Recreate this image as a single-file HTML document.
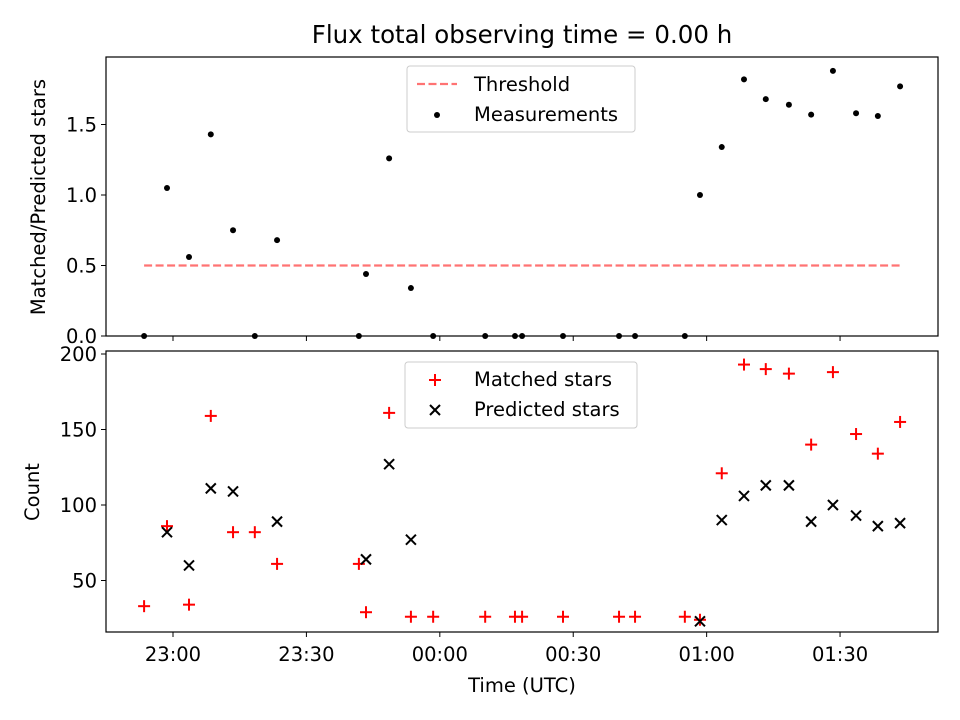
<!DOCTYPE html>
<html><head><meta charset="utf-8"><style>
body{margin:0;background:#fff}
svg{display:block;font-family:"DejaVu Sans","Liberation Sans",sans-serif}
</style></head><body>
<svg id="c" width="960" height="720"></svg>
<script>
const times=[-6.5,-1.35,3.6,8.5,13.5,18.4,23.4,41.8,43.4,48.6,53.5,58.5,70.2,76.9,78.5,87.7,100.3,103.9,115.1,118.5,123.4,128.4,133.3,138.5,143.5,148.4,153.6,158.5,163.5];
const ratio=[0,1.05,0.56,1.43,0.75,0,0.68,0,0.44,1.26,0.34,0,0,0,0,0,0,0,0,1.0,1.34,1.82,1.68,1.64,1.57,1.88,1.58,1.56,1.77];
const matched=[33,86,34,159,82,82,61,61,29,161,26,26,26,26,26,26,26,26,26,24,121,193,190,187,140,188,147,134,155];
const predTimes=[-1.35,3.6,8.5,13.5,23.4,43.4,48.6,53.5,118.5,123.4,128.4,133.3,138.5,143.5,148.4,153.6,158.5,163.5];
const predicted=[82,60,111,109,89,64,127,77,23,90,106,113,113,89,100,93,86,88];
const threshold=0.5;
const xTickLabels=["23:00","23:30","00:00","00:30","01:00","01:30"];
const xTickMins=[0,30,60,90,120,150];
const topTicks=[0,0.5,1.0,1.5];
const botTicks=[50,100,150,200];

const NS="http://www.w3.org/2000/svg";
const svg=document.getElementById('c');
function el(t,a,p){const e=document.createElementNS(NS,t);for(const k in a)e.setAttribute(k,a[k]);(p||svg).appendChild(e);return e;}
const X=m=>173+m*4.447;
const Yt=v=>336-v*141;
const Yb=v=>354+(200-v)*1.51;
const L=106,R=938;
const FS=19.5;

let t=el('text',{x:522,y:43,'text-anchor':'middle','font-size':24.5});t.textContent='Flux total observing time = 0.00 h';


let g1=el('g',{});
el('line',{x1:X(times[0]),x2:X(times[times.length-1]),y1:Yt(threshold),y2:Yt(threshold),stroke:'#ff7373','stroke-width':2.2,'stroke-dasharray':'8,3.5'},g1);
times.forEach((m,i)=>{const c=el('circle',{cx:X(m),cy:Yt(ratio[i]),r:3,fill:'#000'},g1);
});
el('rect',{x:L,y:57,width:R-L,height:279,fill:'none',stroke:'#000','stroke-width':1.2},g1);
topTicks.forEach(v=>{el('line',{x1:L-5,x2:L,y1:Yt(v),y2:Yt(v),stroke:'#000'},g1);
const tx=el('text',{x:L-9,y:Yt(v)+7,'text-anchor':'end','font-size':FS},g1);tx.textContent=v.toFixed(1);
});
xTickMins.forEach(m=>el('line',{x1:X(m),x2:X(m),y1:336,y2:341,stroke:'#000'},g1));
let yl=el('text',{transform:'translate(45,197) rotate(-90)','text-anchor':'middle','font-size':FS},g1);yl.textContent='Matched/Predicted stars';

let lg=el('g',{},g1);
el('rect',{x:407,y:66,width:228,height:66,rx:3,fill:'#fff',stroke:'#ccc'},lg);
el('line',{x1:417,x2:457,y1:84,y2:84,stroke:'#ff7373','stroke-width':2.2,'stroke-dasharray':'8,3.5'},lg);
let a=el('text',{x:474,y:91,'font-size':FS},lg);a.textContent='Threshold';
el('circle',{cx:437,cy:115,r:3,fill:'#000'},lg);
a=el('text',{x:474,y:121,'font-size':FS},lg);a.textContent='Measurements';

let g2=el('g',{});
function plus(x,y,col,p){const g=el('g',{},p);el('line',{x1:x-6,x2:x+6,y1:y,y2:y,stroke:col,'stroke-width':2},g);el('line',{x1:x,x2:x,y1:y-6,y2:y+6,stroke:col,'stroke-width':2},g);return g;}
function cross(x,y,col,p){const g=el('g',{},p);el('line',{x1:x-5,x2:x+5,y1:y-5,y2:y+5,stroke:col,'stroke-width':2},g);el('line',{x1:x-5,x2:x+5,y1:y+5,y2:y-5,stroke:col,'stroke-width':2},g);return g;}
times.forEach((m,i)=>{const g=plus(X(m),Yb(matched[i]),'#f00',g2);});
predTimes.forEach((m,i)=>{const g=cross(X(m),Yb(predicted[i]),'#000',g2);});
el('rect',{x:L,y:351,width:R-L,height:281,fill:'none',stroke:'#000','stroke-width':1.2},g2);
botTicks.forEach(v=>{el('line',{x1:L-5,x2:L,y1:Yb(v),y2:Yb(v),stroke:'#000'},g2);
const tx=el('text',{x:L-9,y:Yb(v)+7,'text-anchor':'end','font-size':FS},g2);tx.textContent=v;
});
xTickMins.forEach((m,i)=>{el('line',{x1:X(m),x2:X(m),y1:632,y2:637,stroke:'#000'},g2);
const tx=el('text',{x:X(m),y:661,'text-anchor':'middle','font-size':FS},g2);tx.textContent=xTickLabels[i];
});
let xl=el('text',{x:522,y:692,'text-anchor':'middle','font-size':FS},g2);xl.textContent='Time (UTC)';

yl=el('text',{transform:'translate(39,492) rotate(-90)','text-anchor':'middle','font-size':FS},g2);yl.textContent='Count';

lg=el('g',{},g2);
el('rect',{x:405,y:362,width:232,height:66,rx:3,fill:'#fff',stroke:'#ccc'},lg);
plus(435,380,'#f00',lg);a=el('text',{x:474,y:386,'font-size':FS},lg);a.textContent='Matched stars';
cross(435,410,'#000',lg);a=el('text',{x:474,y:416,'font-size':FS},lg);a.textContent='Predicted stars';
</script>
</body></html>
